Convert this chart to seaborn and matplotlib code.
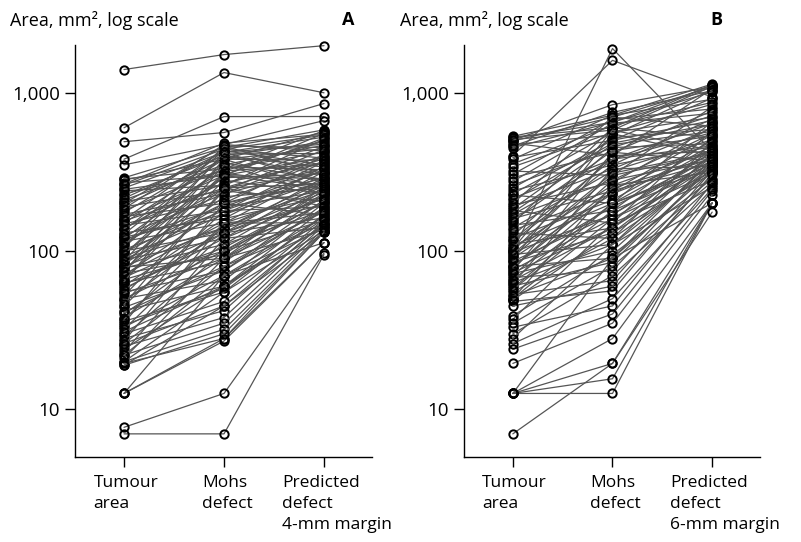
import pandas as pd
import matplotlib
matplotlib.use("Agg")
import matplotlib.pyplot as plt
import seaborn as sns
from matplotlib.ticker import NullLocator

# Panel A: tumour area, Mohs defect, predicted defect (4-mm margin), mm2
tumour_a = [1400, 600, 490, 380, 350, 290, 280, 270, 260, 250, 240, 230, 225, 210, 200,
            190, 180, 175, 165, 160, 155, 150, 145, 140, 135, 130, 125, 120, 118, 115,
            110, 105, 100, 98, 95, 92, 88, 85, 82, 80, 78, 76, 74, 72, 70,
            68, 65, 63, 62, 60, 58, 55, 52, 50, 50, 48, 45, 44, 42, 40,
            38, 36, 35, 34, 33, 32, 30, 29, 28, 27, 26, 25, 24, 23, 22,
            21, 20, 20, 19.5, 19, 12.6, 12.6, 12.6, 7.7, 7.0,
            285, 265, 245, 215, 205, 195, 185, 170, 158, 148, 138, 128, 122, 112, 108,
            102, 96, 90, 86, 83, 79, 75, 71, 66, 64, 57, 54, 46, 41, 37,
            31, 26, 22, 19]
mohs_a = [1740, 1340, 560, 706, 470, 450, 380, 300, 440, 420, 260, 320, 400, 350, 460,
          240, 330, 410, 200, 300, 250, 380, 180, 270, 430, 160, 230, 340, 190, 150,
          290, 400, 130, 200, 360, 170, 120, 250, 310, 140, 110, 220, 380, 95, 190,
          130, 280, 85, 105, 160, 120, 75, 240, 100, 65, 140, 180, 75, 60, 110,
          90, 55, 200, 58, 70, 130, 48, 100, 42, 150, 80, 38, 60, 120, 35,
          90, 32, 55, 28, 45, 27, 28, 70, 12.6, 7.0,
          330, 480, 300, 420, 260, 380, 470, 230, 440, 210, 320, 400, 170, 250, 460,
          180, 300, 140, 420, 200, 90, 300, 150, 100, 350, 130, 90, 250, 80, 150,
          60, 45, 70, 30]
pred_a = [1981, 998, 854, 707, 666, 582, 568, 553, 539, 524, 510, 495, 488, 466, 451,
          436, 421, 413, 397, 390, 382, 374, 366, 358, 350, 342, 334, 326, 322, 317,
          309, 301, 292, 289, 283, 278, 271, 266, 261, 257, 253, 250, 246, 243, 239,
          235, 230, 226, 224, 220, 216, 210, 205, 201, 201, 196, 190, 188, 184, 180,
          176, 171, 169, 167, 165, 162, 158, 156, 153, 151, 149, 146, 144, 141, 139,
          136, 134, 134, 132, 131, 113, 113, 113, 97, 95,
          575, 546, 517, 473, 458, 443, 428, 405, 386, 371, 355, 339, 329, 312, 306,
          295, 285, 275, 268, 262, 255, 248, 241, 231, 228, 214, 208, 192, 182, 174,
          160, 149, 139, 131]

# Panel B: tumour area, Mohs defect, predicted defect (6-mm margin), mm2
tumour_b = [530, 515, 505, 495, 480, 460, 400, 390, 355, 320, 305, 260, 250, 240, 225,
            210, 195, 185, 180, 170, 160, 150, 145, 140, 130, 125, 120, 115, 110, 105,
            100, 100, 98, 95, 92, 90, 88, 85, 82, 80, 78, 76, 75, 72, 70,
            68, 65, 62, 60, 58, 55, 53, 50, 50, 48, 39, 37, 33, 30, 28,
            24, 19.5, 12.6, 12.6, 12.6, 12.6, 12.6, 7.0,
            525, 500, 470, 450, 380, 340, 290, 275, 230, 215, 200, 190, 175, 165, 155,
            135, 118, 108, 103, 96, 86, 79, 73, 66, 63, 57, 52, 49, 45, 35,
            26]
mohs_b = [720, 650, 580, 700, 400, 750, 1600, 500, 620, 300, 680, 450, 560, 350, 200,
          480, 270, 520, 150, 380, 240, 600, 180, 320, 120, 450, 210, 350, 140, 260,
          1900, 400, 170, 110, 300, 230, 550, 130, 190, 90, 280, 160, 420, 100, 240,
          75, 140, 330, 85, 200, 120, 65, 260, 160, 56, 95, 150, 45, 70, 110,
          40, 35, 12.6, 15.6, 19.5, 28, 90, 19.5,
          600, 840, 540, 650, 720, 560, 420, 640, 500, 380, 700, 330, 470, 280, 430,
          230, 380, 200, 580, 310, 170, 250, 140, 200, 110, 180, 90, 130, 60, 80,
          50]
pred_b = [1133, 1111, 1096, 1081, 1059, 1029, 938, 923, 869, 814, 790, 716, 699, 683, 657,
          631, 605, 587, 579, 560, 542, 524, 514, 505, 486, 476, 466, 456, 446, 436,
          426, 426, 422, 415, 409, 405, 401, 394, 388, 383, 379, 375, 372, 366, 361,
          357, 350, 343, 338, 333, 326, 321, 314, 314, 309, 285, 280, 268, 260, 254,
          241, 226, 201, 201, 201, 201, 201, 176,
          1126, 1089, 1044, 1014, 908, 845, 765, 741, 666, 640, 614, 596, 569, 551, 533,
          495, 462, 442, 432, 417, 396, 381, 368, 352, 345, 331, 318, 311, 301, 274,
          248]

labels_a = ["Tumour\narea", "Mohs\ndefect", "Predicted\ndefect\n4-mm margin"]
labels_b = ["Tumour\narea", "Mohs\ndefect", "Predicted\ndefect\n6-mm margin"]


def long_df(t, m, p):
    rows = []
    for i, (a, b, c) in enumerate(zip(t, m, p)):
        rows += [(i, 0, a), (i, 1, b), (i, 2, c)]
    return pd.DataFrame(rows, columns=["case", "stage", "area"])


sns.set_style("ticks")
plt.rcParams["font.family"] = ["Open Sans", "DejaVu Sans"]
plt.rcParams["text.color"] = "black"
plt.rcParams["xtick.color"] = "black"
plt.rcParams["ytick.color"] = "black"

fig = plt.figure(figsize=(8.01, 5.42), dpi=100)
ax_a = fig.add_axes([75 / 801, 1 - 457 / 542, 297 / 801, 412 / 542])
ax_b = fig.add_axes([464 / 801, 1 - 457 / 542, 296 / 801, 412 / 542])

panels = [(ax_a, long_df(tumour_a, mohs_a, pred_a), labels_a),
          (ax_b, long_df(tumour_b, mohs_b, pred_b), labels_b)]

for ax, df, labels in panels:
    sns.lineplot(data=df, x="stage", y="area", units="case", estimator=None,
                 sort=False, color="#555555", linewidth=0.9, marker="o",
                 markersize=6, markerfacecolor="none", markeredgecolor="black",
                 markeredgewidth=1.4, clip_on=False, ax=ax, legend=False)
    ax.set_yscale("log")
    ax.set_ylim(5, 2000)
    ax.set_xlim(-0.49, 2.48)
    ax.set_yticks([10, 100, 1000])
    ax.set_yticklabels(["10", "100", "1,000"])
    ax.yaxis.set_minor_locator(NullLocator())
    ax.set_xticks([0, 1, 2])
    ax.set_xticklabels([])
    ax.tick_params(length=7, width=1, color="black", labelsize=13.5, pad=4)
    ax.set_xlabel("")
    ax.set_ylabel("")
    for s in ["left", "bottom"]:
        ax.spines[s].set_linewidth(1)
        ax.spines[s].set_color("black")
    sns.despine(ax=ax)

    # left-aligned multi-line category labels under each tick
    for x, lbl, dx in zip([0, 1, 2], labels, [-22, -16, -30]):
        ax.annotate(lbl, xy=(x, 0), xycoords=("data", "axes fraction"),
                    xytext=(dx, -13), textcoords="offset points",
                    ha="left", va="top", fontsize=12.5, linespacing=1.4)

fig.text(10 / 801, 1 - 20 / 542, "Area, mm², log scale", va="center", fontsize=13)
fig.text(400 / 801, 1 - 20 / 542, "Area, mm², log scale", va="center", fontsize=13)
fig.text(348 / 801, 1 - 20 / 542, "A", va="center", ha="center", fontsize=13, weight="bold")
fig.text(716 / 801, 1 - 20 / 542, "B", va="center", ha="center", fontsize=13, weight="bold")

fig.savefig("out.png", dpi=100)
